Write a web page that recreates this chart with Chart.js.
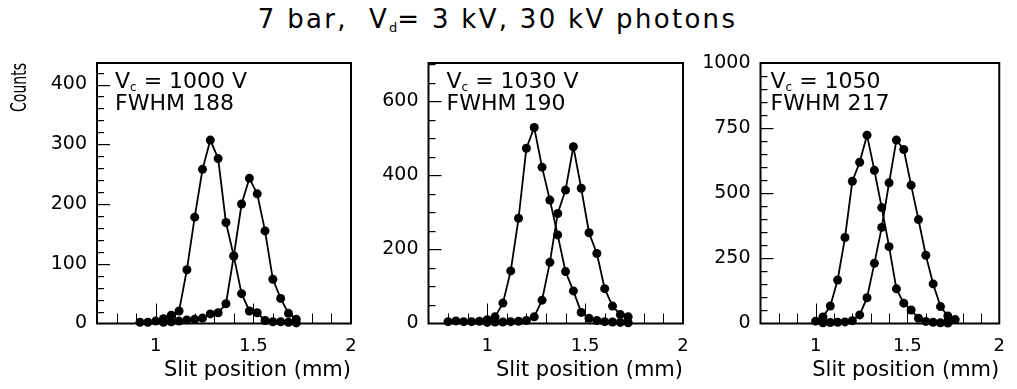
<!DOCTYPE html>
<html>
<head>
<meta charset="utf-8">
<script src="https://cdn.jsdelivr.net/npm/chart.js@4.4.0/dist/chart.umd.min.js"></script>
<style>
  html, body { margin: 0; padding: 0; background: #fff; }
  body { width: 1017px; height: 389px; position: relative; overflow: hidden; }
  canvas { position: absolute; left: 0; top: 0; }
  #titulo { position: absolute; left: 0; top: 2px; width: 995px; text-align: center;
            font: 26px "DejaVu Sans"; letter-spacing: 2.3px; line-height: 34px; color: #000; white-space: pre; }
  #titulo sub { font-size: 13px; vertical-align: -4px; letter-spacing: 0; }
</style>
</head>
<body>
<div id="titulo">7 bar,  V<sub>d</sub>= 3 kV, 30 kV photons</div>
<canvas id="p1" width="1017" height="389"></canvas>
<canvas id="p2" width="1017" height="389"></canvas>
<canvas id="p3" width="1017" height="389"></canvas>
<script>
// Vc = 1000 V
const xIzq1000 = [0.92, 0.96, 1.00, 1.04, 1.08, 1.12, 1.16, 1.20, 1.24, 1.28, 1.32, 1.36, 1.40, 1.44, 1.48, 1.52, 1.56, 1.60, 1.64, 1.68, 1.72];
const yIzq1000 = [2, 2, 4, 8, 14, 21, 90, 178, 258, 307, 276, 169, 113, 50, 21, 18, 5, 3, 3, 2, 1];
const xDer1000 = [1.04, 1.08, 1.12, 1.16, 1.20, 1.24, 1.28, 1.32, 1.36, 1.40, 1.44, 1.48, 1.52, 1.56, 1.60, 1.64, 1.68, 1.72];
const yDer1000 = [2, 3, 4, 6, 7, 9, 16, 18, 33, 113, 200, 243, 217, 155, 74, 42, 17, 7];

// Vc = 1030 V
const xIzq1030 = [0.80, 0.84, 0.88, 0.92, 0.96, 1.00, 1.04, 1.08, 1.12, 1.16, 1.20, 1.24, 1.28, 1.32, 1.36, 1.40, 1.44, 1.48, 1.52, 1.56, 1.60, 1.64, 1.68, 1.72];
const yIzq1030 = [5, 7, 5, 5, 6, 10, 18, 55, 142, 284, 473, 529, 422, 333, 239, 140, 88, 30, 14, 8, 5, 4, 3, 2];
const xDer1030 = [1.00, 1.04, 1.08, 1.12, 1.16, 1.20, 1.24, 1.28, 1.32, 1.36, 1.40, 1.44, 1.48, 1.52, 1.56, 1.60, 1.64, 1.68, 1.72];
const yDer1030 = [3, 4, 4, 5, 6, 8, 18, 63, 165, 297, 360, 477, 365, 245, 189, 94, 47, 24, 18];

// Vc = 1050
const xIzq1050 = [1.00, 1.04, 1.08, 1.12, 1.16, 1.20, 1.24, 1.28, 1.32, 1.36, 1.40, 1.44, 1.48, 1.52, 1.56, 1.60, 1.64, 1.68, 1.72];
const yIzq1050 = [9, 25, 67, 167, 330, 546, 619, 723, 588, 445, 295, 133, 78, 52, 20, 8, 5, 3, 2];
const xDer1050 = [1.04, 1.08, 1.12, 1.16, 1.20, 1.24, 1.28, 1.32, 1.36, 1.40, 1.44, 1.48, 1.52, 1.56, 1.60, 1.64, 1.68, 1.72, 1.76];
const yDer1050 = [3, 4, 5, 6, 11, 33, 99, 231, 369, 540, 704, 668, 531, 399, 262, 152, 65, 29, 15];

const etiquetasVc = ["1000 V", "1030 V", "1050"];
const etiquetasFwhm = ["FWHM 188", "FWHM 190", "FWHM 217"];
const maximosY = [436, 703, 1000];
const pasosY = [100, 200, 250];
const menoresY = [20, 50, 50];

const fuente = '"DejaVu Sans"';

function puntos(xs, ys) {
  return xs.map((x, i) => ({ x: x, y: ys[i] }));
}

// marco con marcas hacia dentro y textos del recuadro
const marco = {
  id: "marco",
  afterDatasetsDraw(chart) {
    const { ctx, chartArea: a, scales: { x, y } } = chart;
    const o = chart.config.options.marco;
    ctx.save();
    ctx.strokeStyle = "#000";
    ctx.lineWidth = 2;
    ctx.setLineDash([]);
    ctx.strokeRect(a.left, a.top, a.right - a.left, a.bottom - a.top);

    ctx.fillStyle = "#000";
    for (let v = 8; v < 20; v++) {
      const px = Math.round(x.getPixelForValue(v / 10));
      const largo = v % 5 === 0 ? 20 : 10;
      ctx.fillRect(px, a.bottom - largo, 1, largo);
    }
    const paso = Number(o.paso), menor = Number(o.menor), tope = Number(o.max);
    for (let k = 1; k * menor < tope; k++) {
      const v = k * menor;
      const py = Math.round(y.getPixelForValue(v));
      const largo = v % paso === 0 ? 13 : 7;
      ctx.fillRect(a.left, py, largo, 1.2);
    }

    ctx.textBaseline = "alphabetic";
    ctx.textAlign = "left";
    const x0 = a.left + o.dx;
    ctx.font = "22px " + fuente;
    ctx.fillText("V", x0, 88);
    const wv = ctx.measureText("V").width;
    ctx.font = "12px " + fuente;
    ctx.fillText("c", x0 + wv, 91);
    const wc = ctx.measureText("c").width;
    ctx.font = "22px " + fuente;
    ctx.fillText(" = " + o.vc, x0 + wv + wc, 88);
    ctx.fillText(o.fwhm, x0, 110);

    if (o.counts) {
      ctx.translate(20, a.top);
      ctx.rotate(-Math.PI / 2);
      ctx.textAlign = "right";
      ctx.textBaseline = "middle";
      ctx.font = "22px " + fuente;
      const w = ctx.measureText("Counts").width;
      ctx.scale(49 / w, 1);
      ctx.fillText("Counts", 0, 0);
    }
    ctx.restore();
  }
};

const paneles = [
  { id: "p1", izq: 97, der: 351, xi: xIzq1000, yi: yIzq1000, xd: xDer1000, yd: yDer1000, dx: 18, counts: true },
  { id: "p2", izq: 428.5, der: 683, xi: xIzq1030, yi: yIzq1030, xd: xDer1030, yd: yDer1030, dx: 18, counts: false },
  { id: "p3", izq: 760.5, der: 1013, xi: xIzq1050, yi: yIzq1050, xd: xDer1050, yd: yDer1050, dx: 10, counts: false }
];

paneles.forEach((p, n) => {
  const anchoY = 90;
  const serie = (xs, ys) => ({
    data: puntos(xs, ys),
    borderColor: "#000",
    borderWidth: 1.8,
    backgroundColor: "#000",
    pointBackgroundColor: "#000",
    pointBorderColor: "#000",
    pointRadius: 4.5,
    pointBorderWidth: 0,
    tension: 0,
    clip: false
  });
  new Chart(document.getElementById(p.id), {
    type: "line",
    data: { datasets: [serie(p.xi, p.yi), serie(p.xd, p.yd)] },
    plugins: [marco],
    options: {
      responsive: false,
      animation: false,
      events: [],
      marco: { max: maximosY[n], paso: pasosY[n], menor: menoresY[n], vc: etiquetasVc[n], fwhm: etiquetasFwhm[n], dx: p.dx, counts: p.counts },
      layout: { padding: { left: p.izq - anchoY, right: 1017 - p.der, top: 63, bottom: 0 } },
      plugins: {
        legend: { display: false },
        tooltip: { enabled: false }
      },
      scales: {
        x: {
          type: "linear",
          min: 0.7,
          max: 2.0,
          grid: { display: false, drawTicks: false },
          border: { display: false },
          ticks: { stepSize: 0.5, includeBounds: false, padding: 12, color: "#000",
                   font: { family: fuente, size: 18 }, callback: (v) => String(v) },
          title: { display: true, text: "Slit position (mm)", align: "end", color: "#000",
                   padding: { top: 0, bottom: 6 }, font: { family: fuente, size: 21 } },
          afterFit(s) { s.height = 389 - 323.5; }
        },
        y: {
          type: "linear",
          min: 0,
          max: maximosY[n],
          grid: { display: false, drawTicks: false },
          border: { display: false },
          ticks: { stepSize: pasosY[n], includeBounds: false, padding: 10, color: "#000",
                   font: { family: fuente, size: 19 }, callback: (v) => String(v) },
          afterFit(s) { s.width = anchoY; }
        }
      }
    }
  });
});
</script>
</body>
</html>
